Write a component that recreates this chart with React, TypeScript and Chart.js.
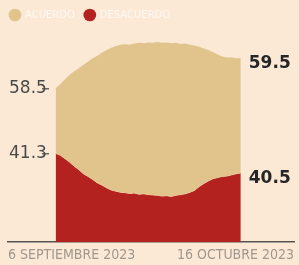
import React, { useEffect, useRef } from "react";
import { Chart, registerables } from "chart.js";

Chart.register(...registerables);

// Series names
const seriesNames = ["ACUERDO", "DESACUERDO"];
// Daily values, 6 Sep 2023 .. 16 Oct 2023 (41 days)
const acuerdo = [
  58.5, 59.6, 60.9, 62.1, 63.0, 63.8, 64.7, 65.6, 66.4, 67.1,
  67.9, 68.6, 69.2, 69.7, 70.0, 70.1, 70.0, 70.3, 70.5, 70.4,
  70.6, 70.5, 70.7, 70.5, 70.6, 70.4, 70.5, 70.2, 70.3, 70.0,
  69.8, 69.5, 69.0, 68.6, 68.0, 67.4, 66.9, 66.6, 66.7, 66.4, 66.5,
];
const desacuerdo = [
  41.3, 40.8, 39.9, 39.0, 37.9, 37.0, 35.9, 35.2, 34.4, 33.5,
  32.9, 32.2, 31.6, 31.3, 31.0, 30.9, 30.7, 30.8, 30.5, 30.6,
  30.4, 30.3, 30.2, 30.0, 30.1, 29.9, 30.2, 30.4, 30.6, 31.0,
  31.5, 32.5, 33.3, 34.0, 34.6, 34.9, 35.2, 35.3, 35.6, 35.9, 36.1,
];
// Axis labels
const xLabels = ["6 SEPTIEMBRE 2023", "16 OCTUBRE 2023"];
const yTicks = [41.3, 58.5];
const endLabels = ["59.5", "40.5"];

const BG = "#fbe9d6";
const TAN = "#e1c48c";
const RED = "#b3221f";
const Y_MIN = 17.8;
const Y_MAX = 73.9;

const endLabelPlugin = {
  id: "endLabels",
  afterDatasetsDraw(chart: any) {
    const ctx = chart.ctx;
    ctx.save();
    ctx.font = 'bold 17px "DejaVu Sans"';
    ctx.fillStyle = "#262626";
    ctx.textAlign = "left";
    ctx.textBaseline = "middle";
    chart.data.datasets.forEach((_ds: any, i: number) => {
      const meta = chart.getDatasetMeta(i);
      const pt = meta.data[meta.data.length - 1];
      if (!pt) return;
      ctx.fillText(endLabels[i], pt.x + 8, pt.y + 6);
    });
    ctx.restore();
  },
};

export default function App() {
  const ref = useRef<HTMLCanvasElement | null>(null);

  useEffect(() => {
    if (!ref.current) return;
    const chart = new Chart(ref.current, {
      type: "line",
      data: {
        datasets: [
          {
            label: seriesNames[0],
            data: acuerdo.map((v, i) => ({ x: i, y: v })),
            backgroundColor: TAN,
            borderColor: TAN,
            borderWidth: 0,
            pointRadius: 0,
            fill: "+1",
            tension: 0,
          },
          {
            label: seriesNames[1],
            data: desacuerdo.map((v, i) => ({ x: i, y: v })),
            backgroundColor: RED,
            borderColor: "#f2c9a6",
            borderWidth: 1,
            pointRadius: 0,
            fill: "start",
            tension: 0,
          },
        ],
      },
      options: {
        responsive: false,
        animation: false,
        layout: { padding: { left: 0, right: 2, top: 0, bottom: -4 } },
        plugins: {
          tooltip: { enabled: false },
          legend: {
            display: true,
            position: "top",
            align: "start",
            labels: {
              usePointStyle: true,
              pointStyle: "circle",
              boxHeight: 9,
              padding: 10,
              color: "#fdf8f2",
              font: { family: '"DejaVu Sans"', size: 10 },
              generateLabels: (c: any) =>
                Chart.defaults.plugins.legend.labels
                  .generateLabels(c)
                  .map((l: any) => ({ ...l, strokeStyle: l.fillStyle, lineWidth: 0 })),
            },
          },
        },
        scales: {
          x: {
            type: "linear",
            min: -10.3,
            max: 51.5,
            grid: { display: false, drawTicks: false },
            border: { display: true, color: "#555555", width: 1.5 },
            afterBuildTicks: (s: any) => {
              s.ticks = [{ value: s.min }, { value: s.max }];
            },
            ticks: {
              autoSkip: false,
              maxRotation: 0,
              align: "inner",
              padding: 5,
              color: "#a0978e",
              font: { family: '"DejaVu Sans Condensed", "DejaVu Sans"', size: 14 },
              callback: (_v: any, idx: number) => xLabels[idx],
            },
          },
          // data axis: only the short tick dashes, placed just left of the series start
          y: {
            type: "linear",
            min: Y_MIN,
            max: Y_MAX,
            position: { x: -1.5 } as any,
            afterFit: (s: any) => {
              s.width = 0;
            },
            afterBuildTicks: (s: any) => {
              s.ticks = yTicks.map((v) => ({ value: v }));
            },
            border: { display: false },
            grid: {
              display: true,
              drawOnChartArea: false,
              drawTicks: true,
              tickLength: 7,
              color: "#666666",
              tickColor: "#666666",
              tickWidth: 1.5,
              lineWidth: 1.5,
            },
            ticks: { display: false },
          },
          // label axis, same range, placed just left of the tick dashes
          yLab: {
            type: "linear",
            min: Y_MIN,
            max: Y_MAX,
            position: { x: -1.9 } as any,
            afterFit: (s: any) => {
              s.width = 0;
            },
            afterBuildTicks: (s: any) => {
              s.ticks = yTicks.map((v) => ({ value: v }));
            },
            border: { display: false },
            grid: { display: false, drawTicks: false },
            ticks: {
              padding: 0,
              color: "#4a4a4a",
              font: { family: '"DejaVu Sans"', size: 17 },
              callback: (v: any) => Number(v).toFixed(1),
            },
          },
          yPad: {
            type: "linear",
            position: "left",
            display: true,
            grid: { display: false, drawTicks: false },
            border: { display: false },
            ticks: { display: false },
            afterFit: (s: any) => {
              s.width = 8;
            },
          },
        },
      },
      plugins: [endLabelPlugin],
    } as any);
    return () => chart.destroy();
  }, []);

  return (
    <div
      style={{
        position: "fixed",
        left: 0,
        top: 0,
        width: 299,
        height: 265,
        background: BG,
      }}
    >
      <canvas ref={ref} width={299} height={265} style={{ display: "block" }} />
    </div>
  );
}
